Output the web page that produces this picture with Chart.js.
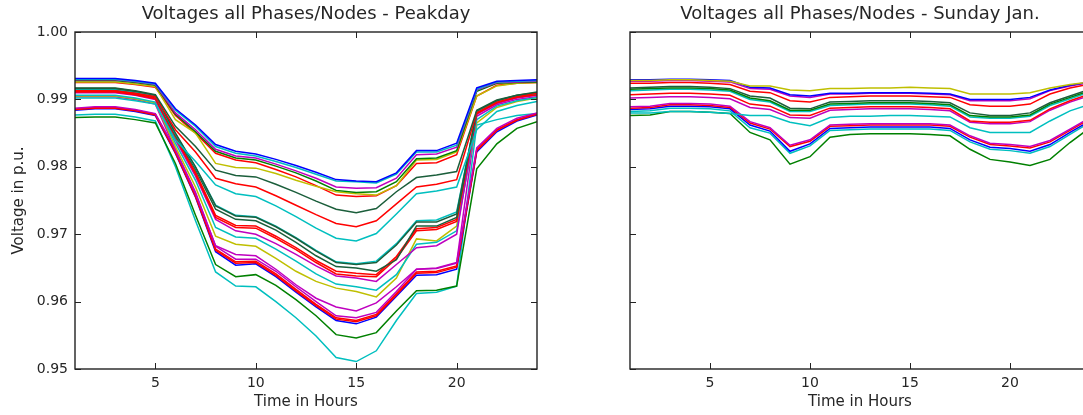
<!DOCTYPE html>
<html>
<head>
<meta charset="utf-8">
<script src="https://cdn.jsdelivr.net/npm/chart.js@4.4.0/dist/chart.umd.min.js"></script>
<style>
  html, body { margin: 0; padding: 0; background: #ffffff; overflow: hidden; }
  #wrap { position: relative; width: 1083px; height: 415px; overflow: hidden; background: #ffffff; }
  #graficoPeak { position: absolute; left: 0; top: 0; }
  #graficoSunday { position: absolute; left: 560px; top: 0; }
</style>
</head>
<body>
<div id="wrap">
  <canvas id="graficoPeak" width="560" height="415"></canvas>
  <canvas id="graficoSunday" width="553" height="415"></canvas>
</div>
<script>
// eixos
var horas = [1, 2, 3, 4, 5, 6, 7, 8, 9, 10, 11, 12, 13, 14, 15, 16, 17, 18, 19, 20, 21, 22, 23, 24];
var ticksHoras = [5, 10, 15, 20];
var ticksVolt = [0.95, 0.96, 0.97, 0.98, 0.99, 1.00];

// Peakday - grupo de cima
var peakTopBlue    = [0.9931, 0.9931, 0.9931, 0.9928, 0.9924, 0.9886, 0.9862, 0.9833, 0.9823, 0.9819, 0.9811, 0.9802, 0.9792, 0.9781, 0.9779, 0.9778, 0.9791, 0.9824, 0.9824, 0.9835, 0.9917, 0.9927, 0.9928, 0.9929];
var peakTopCyan    = [0.9930, 0.9930, 0.9930, 0.9927, 0.9923, 0.9884, 0.9860, 0.9830, 0.9820, 0.9816, 0.9808, 0.9799, 0.9789, 0.9779, 0.9778, 0.9776, 0.9789, 0.9822, 0.9822, 0.9832, 0.9915, 0.9926, 0.9927, 0.9928];
var peakTopMagenta = [0.9929, 0.9929, 0.9929, 0.9926, 0.9922, 0.9880, 0.9855, 0.9826, 0.9816, 0.9813, 0.9804, 0.9794, 0.9783, 0.9770, 0.9768, 0.9769, 0.9783, 0.9818, 0.9819, 0.9829, 0.9914, 0.9925, 0.9926, 0.9927];
var peakTopGreen   = [0.9928, 0.9928, 0.9928, 0.9925, 0.9921, 0.9878, 0.9852, 0.9823, 0.9813, 0.9810, 0.9801, 0.9791, 0.9779, 0.9765, 0.9762, 0.9763, 0.9778, 0.9812, 0.9813, 0.9824, 0.9912, 0.9924, 0.9925, 0.9926];
var peakTopYellow  = [0.9926, 0.9926, 0.9926, 0.9923, 0.9919, 0.9870, 0.9850, 0.9805, 0.9799, 0.9798, 0.9790, 0.9780, 0.9771, 0.9763, 0.9760, 0.9758, 0.9772, 0.9810, 0.9811, 0.9822, 0.9905, 0.9920, 0.9924, 0.9925];
var peakTopRed     = [0.9925, 0.9925, 0.9925, 0.9922, 0.9918, 0.9876, 0.9850, 0.9820, 0.9810, 0.9806, 0.9796, 0.9785, 0.9772, 0.9758, 0.9756, 0.9757, 0.9772, 0.9805, 0.9806, 0.9818, 0.9905, 0.9921, 0.9924, 0.9925];

// Peakday - linhas intermediarias
var peakMidDkGreen = [0.9917, 0.9917, 0.9917, 0.9913, 0.9907, 0.9860, 0.9830, 0.9795, 0.9787, 0.9785, 0.9774, 0.9762, 0.9749, 0.9737, 0.9732, 0.9738, 0.9763, 0.9784, 0.9788, 0.9793, 0.9884, 0.9899, 0.9906, 0.9911];
var peakMidRed     = [0.9913, 0.9913, 0.9913, 0.9909, 0.9904, 0.9855, 0.9822, 0.9783, 0.9775, 0.9770, 0.9757, 0.9743, 0.9729, 0.9716, 0.9711, 0.9720, 0.9745, 0.9770, 0.9774, 0.9781, 0.9880, 0.9896, 0.9904, 0.9909];
var peakMidCyan    = [0.9902, 0.9902, 0.9902, 0.9898, 0.9893, 0.9840, 0.9808, 0.9773, 0.9760, 0.9756, 0.9742, 0.9726, 0.9709, 0.9694, 0.9690, 0.9701, 0.9730, 0.9760, 0.9764, 0.9770, 0.9855, 0.9882, 0.9891, 0.9897];

// Peakday - grupo do meio
var peakCDkGreen   = [0.9916, 0.9916, 0.9916, 0.9912, 0.9906, 0.9850, 0.9800, 0.9742, 0.9727, 0.9725, 0.9711, 0.9694, 0.9675, 0.9658, 0.9655, 0.9658, 0.9684, 0.9718, 0.9718, 0.9730, 0.9883, 0.9898, 0.9906, 0.9910];
var peakCCyan      = [0.9915, 0.9915, 0.9915, 0.9911, 0.9905, 0.9849, 0.9799, 0.9743, 0.9728, 0.9726, 0.9712, 0.9695, 0.9676, 0.9659, 0.9656, 0.9660, 0.9686, 0.9720, 0.9721, 0.9733, 0.9882, 0.9897, 0.9905, 0.9909];
var peakCDkGreen2  = [0.9914, 0.9914, 0.9914, 0.9910, 0.9904, 0.9847, 0.9796, 0.9737, 0.9722, 0.9720, 0.9706, 0.9688, 0.9668, 0.9652, 0.9650, 0.9645, 0.9662, 0.9712, 0.9712, 0.9725, 0.9882, 0.9897, 0.9905, 0.9909];
var peakCRed       = [0.9912, 0.9912, 0.9912, 0.9908, 0.9902, 0.9845, 0.9792, 0.9728, 0.9713, 0.9712, 0.9697, 0.9680, 0.9661, 0.9645, 0.9642, 0.9640, 0.9667, 0.9708, 0.9710, 0.9722, 0.9880, 0.9896, 0.9904, 0.9908];
var peakCRed2      = [0.9911, 0.9911, 0.9911, 0.9907, 0.9901, 0.9843, 0.9789, 0.9725, 0.9710, 0.9709, 0.9694, 0.9677, 0.9658, 0.9641, 0.9638, 0.9637, 0.9664, 0.9705, 0.9707, 0.9719, 0.9879, 0.9895, 0.9903, 0.9907];
var peakCMagenta   = [0.9910, 0.9910, 0.9910, 0.9906, 0.9900, 0.9840, 0.9786, 0.9722, 0.9705, 0.9700, 0.9686, 0.9670, 0.9653, 0.9638, 0.9635, 0.9630, 0.9655, 0.9680, 0.9683, 0.9700, 0.9878, 0.9894, 0.9902, 0.9906];
var peakCCyan2     = [0.9906, 0.9906, 0.9906, 0.9902, 0.9896, 0.9835, 0.9780, 0.9710, 0.9696, 0.9694, 0.9678, 0.9660, 0.9641, 0.9626, 0.9622, 0.9617, 0.9640, 0.9685, 0.9688, 0.9705, 0.9870, 0.9890, 0.9898, 0.9903];
var peakCYellow    = [0.9905, 0.9905, 0.9905, 0.9901, 0.9895, 0.9830, 0.9770, 0.9697, 0.9685, 0.9682, 0.9664, 0.9645, 0.9630, 0.9620, 0.9615, 0.9607, 0.9635, 0.9693, 0.9690, 0.9712, 0.9865, 0.9888, 0.9897, 0.9902];
var peakCMagenta2  = [0.9904, 0.9904, 0.9904, 0.9900, 0.9893, 0.9825, 0.9760, 0.9683, 0.9670, 0.9668, 0.9648, 0.9625, 0.9605, 0.9592, 0.9586, 0.9598, 0.9622, 0.9648, 0.9650, 0.9658, 0.9875, 0.9892, 0.9900, 0.9904];

// Peakday - grupo de baixo
var peakDMagenta   = [0.9887, 0.9889, 0.9889, 0.9885, 0.9879, 0.9826, 0.9762, 0.9682, 0.9663, 0.9663, 0.9645, 0.9622, 0.9600, 0.9579, 0.9576, 0.9584, 0.9615, 0.9648, 0.9649, 0.9657, 0.9828, 0.9857, 0.9872, 0.9880];
var peakDRed       = [0.9886, 0.9888, 0.9888, 0.9884, 0.9878, 0.9823, 0.9758, 0.9678, 0.9659, 0.9660, 0.9641, 0.9618, 0.9596, 0.9576, 0.9572, 0.9581, 0.9612, 0.9644, 0.9645, 0.9653, 0.9825, 0.9855, 0.9870, 0.9879];
var peakDRed2      = [0.9885, 0.9887, 0.9887, 0.9883, 0.9877, 0.9821, 0.9756, 0.9676, 0.9657, 0.9658, 0.9639, 0.9616, 0.9594, 0.9574, 0.9570, 0.9579, 0.9610, 0.9642, 0.9643, 0.9651, 0.9824, 0.9854, 0.9869, 0.9878];
var peakDBlue      = [0.9884, 0.9886, 0.9886, 0.9882, 0.9876, 0.9820, 0.9755, 0.9674, 0.9654, 0.9656, 0.9637, 0.9614, 0.9592, 0.9572, 0.9567, 0.9577, 0.9608, 0.9639, 0.9640, 0.9648, 0.9822, 0.9852, 0.9868, 0.9877];
var peakEGreen     = [0.9873, 0.9874, 0.9874, 0.9870, 0.9865, 0.9805, 0.9728, 0.9655, 0.9637, 0.9640, 0.9624, 0.9603, 0.9579, 0.9551, 0.9546, 0.9554, 0.9586, 0.9616, 0.9617, 0.9623, 0.9797, 0.9834, 0.9857, 0.9867];
var peakECyan      = [0.9877, 0.9878, 0.9878, 0.9874, 0.9868, 0.9800, 0.9720, 0.9644, 0.9623, 0.9622, 0.9600, 0.9576, 0.9549, 0.9517, 0.9511, 0.9527, 0.9572, 0.9612, 0.9614, 0.9623, 0.9862, 0.9870, 0.9876, 0.9879];

// Sunday Jan.
var sunTopYellow   = [0.9928, 0.9928, 0.9929, 0.9929, 0.9928, 0.9927, 0.9920, 0.9920, 0.9914, 0.9913, 0.9916, 0.9916, 0.9917, 0.9917, 0.9918, 0.9917, 0.9916, 0.9908, 0.9908, 0.9908, 0.9910, 0.9917, 0.9922, 0.9926];
var sunTopBlue     = [0.9929, 0.9929, 0.9930, 0.9930, 0.9929, 0.9928, 0.9918, 0.9917, 0.9907, 0.9905, 0.9909, 0.9909, 0.9910, 0.9910, 0.9910, 0.9909, 0.9908, 0.9900, 0.9900, 0.9900, 0.9903, 0.9914, 0.9921, 0.9926];
var sunTopMagenta  = [0.9927, 0.9927, 0.9928, 0.9928, 0.9927, 0.9926, 0.9916, 0.9915, 0.9905, 0.9903, 0.9908, 0.9908, 0.9909, 0.9909, 0.9909, 0.9908, 0.9907, 0.9898, 0.9898, 0.9898, 0.9901, 0.9913, 0.9920, 0.9925];
var sunTopRed      = [0.9924, 0.9924, 0.9925, 0.9925, 0.9924, 0.9922, 0.9912, 0.9910, 0.9898, 0.9896, 0.9903, 0.9904, 0.9905, 0.9905, 0.9905, 0.9904, 0.9903, 0.9892, 0.9890, 0.9890, 0.9893, 0.9908, 0.9917, 0.9923];
var sunMidDkGreen  = [0.9917, 0.9918, 0.9919, 0.9919, 0.9918, 0.9916, 0.9905, 0.9902, 0.9887, 0.9886, 0.9896, 0.9897, 0.9898, 0.9898, 0.9898, 0.9897, 0.9895, 0.9880, 0.9876, 0.9876, 0.9880, 0.9895, 0.9905, 0.9915];
var sunMidGreen    = [0.9915, 0.9916, 0.9917, 0.9917, 0.9916, 0.9914, 0.9902, 0.9898, 0.9884, 0.9884, 0.9893, 0.9894, 0.9895, 0.9895, 0.9895, 0.9894, 0.9892, 0.9876, 0.9874, 0.9874, 0.9877, 0.9893, 0.9903, 0.9913];
var sunMidCyan     = [0.9913, 0.9914, 0.9915, 0.9915, 0.9914, 0.9912, 0.9900, 0.9896, 0.9882, 0.9882, 0.9891, 0.9892, 0.9893, 0.9893, 0.9893, 0.9892, 0.9890, 0.9874, 0.9872, 0.9872, 0.9875, 0.9891, 0.9901, 0.9911];
var sunMidRed      = [0.9907, 0.9908, 0.9909, 0.9909, 0.9908, 0.9906, 0.9893, 0.9890, 0.9877, 0.9876, 0.9887, 0.9888, 0.9889, 0.9889, 0.9889, 0.9888, 0.9886, 0.9868, 0.9866, 0.9866, 0.9869, 0.9886, 0.9898, 0.9908];
var sunMidMagenta  = [0.9902, 0.9903, 0.9904, 0.9904, 0.9903, 0.9901, 0.9888, 0.9885, 0.9873, 0.9872, 0.9884, 0.9885, 0.9886, 0.9886, 0.9886, 0.9885, 0.9883, 0.9866, 0.9864, 0.9864, 0.9867, 0.9884, 0.9896, 0.9906];
var sunMidCyan2    = [0.9880, 0.9880, 0.9882, 0.9882, 0.9881, 0.9879, 0.9876, 0.9876, 0.9866, 0.9861, 0.9873, 0.9875, 0.9875, 0.9876, 0.9876, 0.9875, 0.9874, 0.9858, 0.9851, 0.9851, 0.9851, 0.9868, 0.9883, 0.9893];
var sunLowMagenta  = [0.9889, 0.9890, 0.9894, 0.9894, 0.9893, 0.9890, 0.9867, 0.9858, 0.9832, 0.9840, 0.9862, 0.9863, 0.9864, 0.9864, 0.9864, 0.9864, 0.9862, 0.9846, 0.9835, 0.9833, 0.9830, 0.9839, 0.9856, 0.9873];
var sunLowRed      = [0.9887, 0.9888, 0.9892, 0.9892, 0.9891, 0.9888, 0.9865, 0.9856, 0.9830, 0.9838, 0.9860, 0.9861, 0.9862, 0.9862, 0.9862, 0.9862, 0.9860, 0.9844, 0.9833, 0.9831, 0.9828, 0.9837, 0.9854, 0.9871];
var sunLowBlue     = [0.9885, 0.9886, 0.9890, 0.9890, 0.9889, 0.9886, 0.9862, 0.9853, 0.9823, 0.9834, 0.9857, 0.9858, 0.9859, 0.9859, 0.9859, 0.9859, 0.9857, 0.9840, 0.9829, 0.9827, 0.9823, 0.9833, 0.9851, 0.9868];
var sunLowCyan     = [0.9882, 0.9883, 0.9887, 0.9887, 0.9886, 0.9883, 0.9858, 0.9850, 0.9820, 0.9831, 0.9854, 0.9855, 0.9856, 0.9856, 0.9856, 0.9856, 0.9854, 0.9837, 0.9826, 0.9824, 0.9820, 0.9830, 0.9848, 0.9866];
var sunLowGreen    = [0.9876, 0.9877, 0.9882, 0.9882, 0.9881, 0.9879, 0.9851, 0.9840, 0.9804, 0.9815, 0.9844, 0.9848, 0.9849, 0.9849, 0.9849, 0.9848, 0.9846, 0.9826, 0.9811, 0.9807, 0.9802, 0.9811, 0.9836, 0.9858];

// cores do matplotlib classico
var azul = "#0000ff", verde = "#008000", vermelho = "#ff0000", ciano = "#00bfbf";
var magenta = "#bf00bf", amarelo = "#bfbf00", verdeEscuro = "#1b5e3b";

var linhasPeak = [
    [peakTopBlue, azul], [peakTopCyan, ciano], [peakTopMagenta, magenta], [peakTopGreen, verde],
    [peakTopYellow, amarelo], [peakTopRed, vermelho],
    [peakMidDkGreen, verdeEscuro], [peakMidRed, vermelho], [peakMidCyan, ciano],
    [peakCDkGreen, verdeEscuro], [peakCCyan, ciano], [peakCDkGreen2, verdeEscuro], [peakCRed, vermelho],
    [peakCRed2, vermelho], [peakCMagenta, magenta], [peakCCyan2, ciano], [peakCYellow, amarelo],
    [peakCMagenta2, magenta],
    [peakDMagenta, magenta], [peakDRed, vermelho], [peakDRed2, vermelho], [peakDBlue, azul],
    [peakEGreen, verde], [peakECyan, ciano]
];

var linhasSunday = [
    [sunTopYellow, amarelo], [sunTopBlue, azul], [sunTopMagenta, magenta], [sunTopRed, vermelho],
    [sunMidDkGreen, verdeEscuro], [sunMidGreen, verde], [sunMidCyan, ciano], [sunMidRed, vermelho],
    [sunMidMagenta, magenta], [sunMidCyan2, ciano],
    [sunLowMagenta, magenta], [sunLowRed, vermelho], [sunLowBlue, azul], [sunLowCyan, ciano],
    [sunLowGreen, verde]
];

var fonte = "'DejaVu Sans', sans-serif";
var corTexto = "#262626";

function montarDatasets(linhas) {
    return linhas.map(function (l) {
        return {
            data: horas.map(function (h, i) { return { x: h, y: l[0][i] }; }),
            borderColor: l[1],
            borderWidth: 1.5,
            pointRadius: 0,
            tension: 0,
            fill: false
        };
    });
}

// moldura e ticks para dentro (estilo matplotlib)
var molduraPlugin = {
    id: "moldura",
    afterDatasetsDraw: function (chart) {
        var ctx = chart.ctx, a = chart.chartArea;
        var sx = chart.scales.x, sy = chart.scales.y;
        ctx.save();
        ctx.strokeStyle = "#222222";
        ctx.lineWidth = 1;
        ctx.beginPath();
        sx.ticks.forEach(function (t) {
            var px = Math.round(sx.getPixelForValue(t.value)) + 0.5;
            ctx.moveTo(px, a.bottom); ctx.lineTo(px, a.bottom - 6);
            ctx.moveTo(px, a.top); ctx.lineTo(px, a.top + 6);
        });
        sy.ticks.forEach(function (t) {
            var py = Math.round(sy.getPixelForValue(t.value)) + 0.5;
            ctx.moveTo(a.left, py); ctx.lineTo(a.left + 6, py);
            ctx.moveTo(a.right, py); ctx.lineTo(a.right - 6, py);
        });
        ctx.stroke();
        ctx.lineWidth = 1.4;
        ctx.strokeRect(a.left, a.top, a.right - a.left, a.bottom - a.top);
        ctx.restore();
    }
};

function opcoes(titulo, larguraY, comRotulos) {
    return {
        responsive: false,
        animation: false,
        layout: { padding: { top: 0, right: 23, bottom: 0, left: 0 } },
        plugins: {
            legend: { display: false },
            tooltip: { enabled: false },
            title: {
                display: true,
                fullSize: false,
                text: titulo,
                color: corTexto,
                font: { family: fonte, size: 18, weight: "normal" },
                padding: { top: 4, bottom: 6.4 }
            }
        },
        scales: {
            x: {
                type: "linear",
                min: 1,
                max: 24,
                afterBuildTicks: function (s) { s.ticks = ticksHoras.map(function (v) { return { value: v }; }); },
                afterFit: function (s) { s.height = 46; },
                grid: { display: false, drawTicks: false },
                border: { display: false },
                ticks: { padding: 6, color: corTexto, maxRotation: 0, autoSkip: false, font: { family: fonte, size: 14 } },
                title: { display: true, text: "Time in Hours", color: corTexto, font: { family: fonte, size: 15 }, padding: { top: 0, bottom: 4 } }
            },
            y: {
                min: 0.95,
                max: 1.0,
                afterBuildTicks: function (s) { s.ticks = ticksVolt.map(function (v) { return { value: v }; }); },
                afterFit: function (s) { s.width = larguraY; },
                grid: { display: false, drawTicks: false },
                border: { display: false },
                ticks: {
                    padding: 7,
                    color: corTexto,
                    font: { family: fonte, size: 14 },
                    callback: function (v) { return comRotulos ? Number(v).toFixed(2) : ""; }
                },
                title: { display: comRotulos, text: "Voltage in p.u.", color: corTexto, font: { family: fonte, size: 15 }, padding: { top: 10, bottom: 0 } }
            }
        }
    };
}

new Chart(document.getElementById("graficoPeak"), {
    type: "line",
    data: { datasets: montarDatasets(linhasPeak) },
    options: opcoes("Voltages all Phases/Nodes - Peakday", 75, true),
    plugins: [molduraPlugin]
});

new Chart(document.getElementById("graficoSunday"), {
    type: "line",
    data: { datasets: montarDatasets(linhasSunday) },
    options: opcoes("Voltages all Phases/Nodes - Sunday Jan.", 70, false),
    plugins: [molduraPlugin]
});
</script>
</body>
</html>
